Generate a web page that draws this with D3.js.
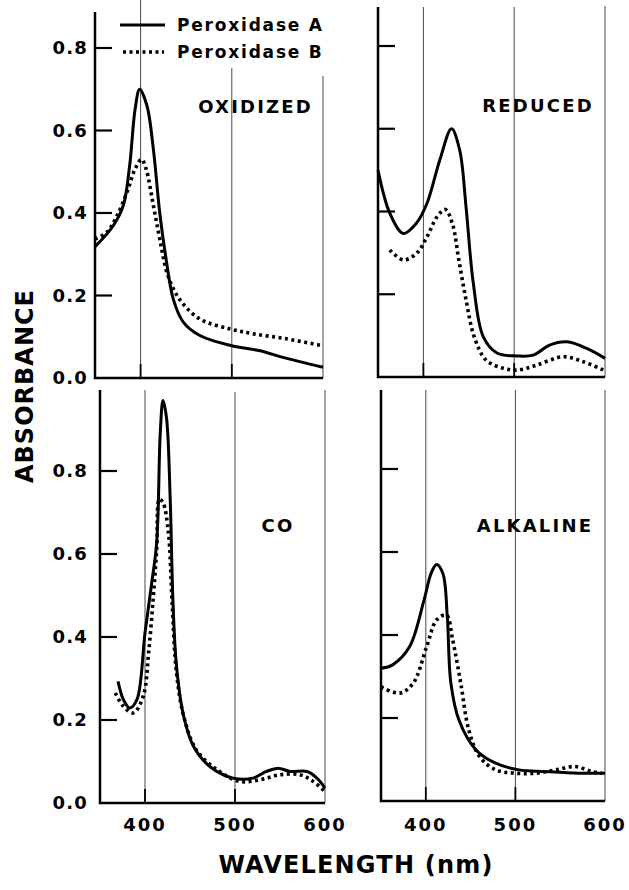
<!DOCTYPE html>
<html>
<head>
<meta charset="utf-8">
<script src="https://cdn.jsdelivr.net/npm/d3@7"></script>
<style>
  body { margin: 0; background: #fff; }
  svg { display: block; font-family: "DejaVu Sans", sans-serif; font-weight: bold; }
</style>
</head>
<body>
<div id="chart"></div>
<script>
// wavelength (nm), absorbance pairs
const oxidizedA = [[350,0.318],[370,0.369],[381,0.418],[388,0.515],[394,0.652],[399,0.700],[407,0.660],[414,0.555],[421,0.400],[428,0.288],[436,0.190],[447,0.135],[465,0.103],[500,0.078],[531,0.066],[556,0.050],[600,0.026]];
const oxidizedB = [[350,0.337],[363,0.353],[374,0.393],[385,0.450],[394,0.507],[401,0.530],[406,0.507],[414,0.418],[421,0.337],[430,0.248],[443,0.190],[465,0.143],[498,0.119],[524,0.107],[560,0.095],[600,0.078]];
const reducedA = [[350,0.500],[363,0.396],[378,0.347],[392,0.371],[404,0.420],[418,0.524],[431,0.600],[440,0.548],[447,0.410],[455,0.226],[466,0.097],[481,0.058],[503,0.051],[521,0.053],[539,0.077],[558,0.085],[580,0.069],[600,0.045]];
const reducedB = [[363,0.307],[378,0.283],[393,0.300],[404,0.339],[415,0.387],[424,0.405],[432,0.370],[439,0.283],[447,0.186],[456,0.097],[469,0.041],[488,0.021],[505,0.017],[525,0.029],[554,0.049],[576,0.037],[598,0.017]];
const coA = [[370,0.293],[376,0.249],[383,0.229],[391,0.249],[400,0.410],[407,0.523],[413,0.628],[417,0.894],[420,0.970],[424,0.926],[428,0.732],[431,0.490],[435,0.330],[443,0.209],[454,0.136],[472,0.088],[498,0.060],[520,0.060],[535,0.076],[548,0.084],[561,0.076],[580,0.076],[591,0.060],[600,0.036]];
const coB = [[367,0.265],[376,0.233],[387,0.217],[398,0.257],[404,0.362],[409,0.490],[413,0.611],[416,0.732],[420,0.724],[426,0.652],[430,0.490],[435,0.314],[443,0.209],[457,0.128],[480,0.080],[505,0.052],[528,0.056],[550,0.068],[572,0.068],[587,0.052],[600,0.027]];
const alkalineA = [[350,0.320],[363,0.328],[382,0.372],[398,0.484],[406,0.549],[412,0.570],[419,0.549],[424,0.444],[428,0.284],[437,0.195],[456,0.123],[478,0.091],[504,0.075],[533,0.071],[571,0.067],[600,0.067]];
const alkalineB = [[350,0.275],[371,0.260],[386,0.284],[401,0.372],[412,0.436],[423,0.448],[430,0.388],[439,0.284],[448,0.171],[460,0.107],[478,0.075],[500,0.067],[523,0.067],[545,0.075],[567,0.083],[585,0.071],[597,0.067]];

const panelNames = ["OXIDIZED", "REDUCED", "CO", "ALKALINE"];
const xTicks = [400, 500, 600];
const yTicks = [0, 0.2, 0.4, 0.6, 0.8];
const legendNames = ["Peroxidase A", "Peroxidase B"];

const W = 629, H = 890;
const svg = d3.select("#chart").append("svg").attr("width", W).attr("height", H);

// panel boxes: left, right, bottom (y of 0), y of 0.8, top of frame, tops of the thin lines
const panels = [
    {name: panelNames[0], a: oxidizedA, b: oxidizedB, l: 95,  r: 323, b0: 378, t8: 48,  top: 12,  gridTop: [0, 68, 76], labelX: 313, labelY: 113, anchor: "end", yLabels: true,  xLabels: false},
    {name: panelNames[1], a: reducedA,  b: reducedB,  l: 378, r: 605, b0: 377, t8: 46,  top: 7,   gridTop: [7, 7, 6], labelX: 538, labelY: 112, anchor: "middle", yLabels: false, xLabels: false},
    {name: panelNames[2], a: coA,       b: coB,       l: 100, r: 325, b0: 803, t8: 471, top: 390, gridTop: [390, 392, 390], labelX: 278, labelY: 532, anchor: "middle", yLabels: true,  xLabels: true},
    {name: panelNames[3], a: alkalineA, b: alkalineB, l: 381, r: 605, b0: 801, t8: 469, top: 390, gridTop: [390, 390, 390], labelX: 535, labelY: 532, anchor: "middle", yLabels: false, xLabels: true}
];

panels.forEach((p) => {
    let x = d3.scaleLinear().domain([350, 600]).range([p.l, p.r]);
    let y = d3.scaleLinear().domain([0, 0.8]).range([p.b0, p.t8]);
    let g = svg.append("g");

    //thin vertical lines at 400, 500, 600
    g.selectAll(".grid").data(xTicks).enter().append("line")
        .attr("x1", d => x(d)).attr("x2", d => x(d))
        .attr("y1", (d, i) => p.gridTop[i]).attr("y2", p.b0)
        .attr("stroke", "#333").attr("stroke-width", 0.9);

    //short inward ticks on the wavelength axis
    g.selectAll(".xt").data(xTicks.slice(0, 2)).enter().append("line")
        .attr("x1", d => x(d)).attr("x2", d => x(d))
        .attr("y1", p.b0 - 14).attr("y2", p.b0)
        .attr("stroke", "#000").attr("stroke-width", 1.8);

    //y ticks pointing inward
    g.selectAll(".yt").data(yTicks.slice(1)).enter().append("line")
        .attr("x1", p.l).attr("x2", p.l + 17)
        .attr("y1", d => y(d)).attr("y2", d => y(d))
        .attr("stroke", "#000").attr("stroke-width", 2.2);

    //frame: left and bottom
    g.append("path")
        .attr("d", "M" + p.l + "," + p.top + "V" + p.b0 + "H" + p.r)
        .attr("fill", "none").attr("stroke", "#000").attr("stroke-width", 2.5);

    if (p.yLabels) {
        g.selectAll(".yl").data(yTicks).enter().append("text")
            .attr("x", 88).attr("y", d => y(d))
            .attr("dy", "0.36em")
            .attr("text-anchor", "end")
            .attr("font-size", 18).attr("letter-spacing", 1.2)
            .text(d => d.toFixed(1));
    }
    if (p.xLabels) {
        g.selectAll(".xl").data(xTicks).enter().append("text")
            .attr("x", d => x(d)).attr("y", 831)
            .attr("text-anchor", "middle")
            .attr("font-size", 18).attr("letter-spacing", 2)
            .text(d => d);
    }

    let line = d3.line()
        .x(d => x(d[0])).y(d => y(d[1]))
        .curve(d3.curveCatmullRom.alpha(0.5));

    g.append("path").datum(p.b).attr("d", line)
        .attr("fill", "none").attr("stroke", "#000")
        .attr("stroke-width", 3.6).attr("stroke-dasharray", "3,3.5");
    g.append("path").datum(p.a).attr("d", line)
        .attr("fill", "none").attr("stroke", "#000").attr("stroke-width", 3);

    g.append("text")
        .attr("x", p.labelX).attr("y", p.labelY)
        .attr("text-anchor", p.anchor)
        .attr("font-size", 18).attr("letter-spacing", 2.2)
        .text(p.name);
});

//legend
svg.append("line").attr("x1", 120).attr("x2", 165).attr("y1", 25).attr("y2", 25)
    .attr("stroke", "#000").attr("stroke-width", 3);
svg.append("line").attr("x1", 123).attr("x2", 164).attr("y1", 52).attr("y2", 52)
    .attr("stroke", "#000").attr("stroke-width", 3.6).attr("stroke-dasharray", "3,3.5");
svg.selectAll(".leg").data(legendNames).enter().append("text")
    .attr("x", 177).attr("y", (d, i) => 31 + i * 27)
    .attr("font-size", 17).attr("letter-spacing", 1.8)
    .text(d => d);

//axis titles
svg.append("text")
    .attr("transform", "translate(33,386) rotate(-90)")
    .attr("text-anchor", "middle")
    .attr("font-size", 24).attr("letter-spacing", 1)
    .text("ABSORBANCE");
svg.append("text")
    .attr("x", 356).attr("y", 873)
    .attr("text-anchor", "middle")
    .attr("font-size", 24).attr("letter-spacing", 1.2)
    .text("WAVELENGTH (nm)");
</script>
</body>
</html>
